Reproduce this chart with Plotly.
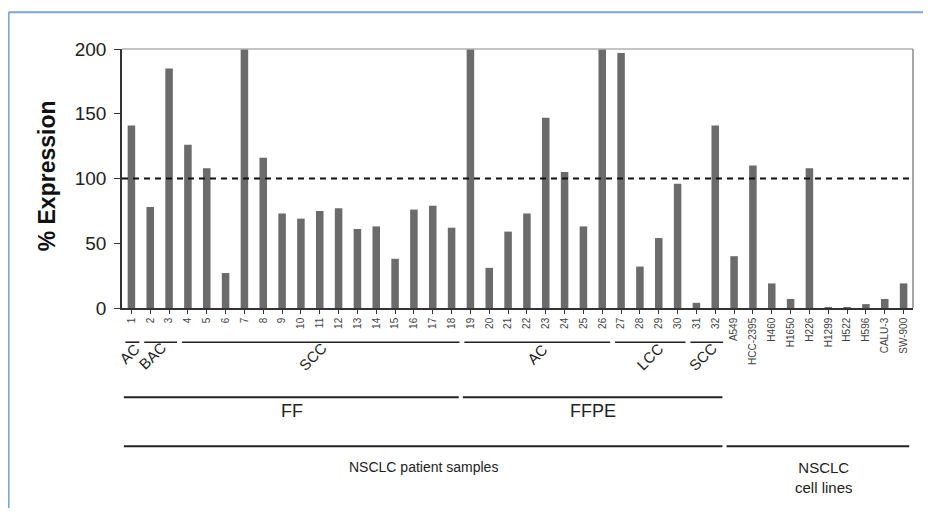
import plotly.graph_objects as go

patient_labels = [str(i) for i in range(1, 33)]
cell_lines = ["A549", "HCC-2395", "H460", "H1650", "H226", "H1299", "H522", "H596", "CALU-3", "SW-900"]
categories = patient_labels + cell_lines

expression = [141, 78, 185, 126, 108, 27, 200, 116, 73, 69,
              75, 77, 61, 63, 38, 76, 79, 62, 200, 31,
              59, 73, 147, 105, 63, 200, 197, 32, 54, 96,
              4, 141,
              40, 110, 19, 7, 108, 0.4, 0.4, 3, 7, 19]

histology = [("AC", 0, 0), ("BAC", 1, 2), ("SCC", 3, 17),
             ("AC", 18, 25), ("LCC", 26, 29), ("SCC", 30, 31)]
preservation = [("FF", 0, 17), ("FFPE", 18, 31)]
source = [("NSCLC patient samples", 0, 31), ("NSCLC<br>cell lines", 32, 41)]
yticks = [0, 50, 100, 150, 200]
threshold = 100

# the page body has an 8px margin; work in reference-pixel coords and shift
OFF = 8
FW, FH = 915, 500
L, R, T, B = 122.3, 912.7, 49.3, 308.3   # reference pixels
W, H = R - L, B - T

def py(p):  # reference pixel y -> paper y
    return (B - p) / H

def px(p):
    return (p - L) / W

x_idx = list(range(len(categories)))

fig = go.Figure()
fig.add_trace(go.Bar(x=x_idx, y=expression, marker=dict(color="#6b6b6b", line=dict(width=0)),
                     width=0.4, showlegend=False))

fig.add_shape(type="line", xref="paper", yref="y", x0=0, x1=1, y0=threshold, y1=threshold,
              line=dict(color="#111", width=2, dash="6px,5px"))

fig.add_shape(type="line", xref="paper", yref="paper", x0=0, x1=1, y0=1, y1=1,
              line=dict(color="#b0b0b0", width=1.5))
fig.add_shape(type="line", xref="paper", yref="paper", x0=1, x1=1, y0=0, y1=1,
              line=dict(color="#8a8a8a", width=1.5))

fig.add_shape(type="line", xref="paper", yref="paper", x0=px(9), x1=px(940), y0=py(12.5), y1=py(12.5),
              line=dict(color="#7ba7d6", width=2))
fig.add_shape(type="line", xref="paper", yref="paper", x0=px(9), x1=px(9), y0=py(12.5), y1=py(530),
              line=dict(color="#7ba7d6", width=2))

annos = []
lvl1_y = 342.5
lbl1_pos = [(130, 354), (153, 356), (313, 357), (537, 355), (650, 357), (703, 357)]
for k, (lab, a, b) in enumerate(histology):
    fig.add_shape(type="line", xref="x", yref="paper", x0=a - 0.32, x1=b + 0.42,
                  y0=py(lvl1_y), y1=py(lvl1_y), line=dict(color="#222", width=1.6))
    cx, cy = lbl1_pos[k]
    annos.append(dict(text=lab, xref="paper", yref="paper", x=px(cx), y=py(cy), showarrow=False,
                      xanchor="center", yanchor="middle",
                      textangle=-45, font=dict(size=15, color="#222")))
lvl2_y = 397.5
for lab, a, b in preservation:
    fig.add_shape(type="line", xref="x", yref="paper", x0=a - 0.4, x1=b + 0.38,
                  y0=py(lvl2_y), y1=py(lvl2_y), line=dict(color="#222", width=2))
    annos.append(dict(text=lab, xref="x", yref="paper", x=(a + b) / 2, y=py(411), showarrow=False,
                      xanchor="center", yanchor="middle",
                      font=dict(size=18, color="#222")))
lvl3_y = 446.5
for lab, a, b in source:
    last = b == len(categories) - 1
    fig.add_shape(type="line", xref="x", yref="paper", x0=a - 0.4, x1=b + (0.3 if last else 0.38),
                  y0=py(lvl3_y), y1=py(lvl3_y), line=dict(color="#222", width=2))
    annos.append(dict(text=lab, xref="x", yref="paper", x=(a + b) / 2 + (0.3 if last else 0),
                      y=py(478 if last else 467), showarrow=False,
                      xanchor="center", yanchor="middle",
                      font=dict(size=14 if not last else 15, color="#222")))

annos.append(dict(text="<b>% Expression</b>", xref="paper", yref="paper", x=px(47), y=py(176),
                  showarrow=False, textangle=-90, xanchor="center", yanchor="middle",
                  font=dict(size=23, color="#111")))

fig.update_layout(
    width=FW, height=FH,
    margin=dict(l=L - OFF, r=FW - (R - OFF), t=T - OFF, b=FH - (B - OFF)),
    paper_bgcolor="white", plot_bgcolor="white",
    bargap=0.6, annotations=annos,
    font=dict(family="Arial, Liberation Sans, sans-serif"),
)
fig.update_xaxes(range=[-0.5, len(categories) - 0.5], tickmode="array", tickvals=x_idx,
                 ticktext=categories, tickangle=-90, tickfont=dict(size=10, color="#444"),
                 ticks="outside", ticklen=4, tickcolor="#333", tickson="boundaries",
                 showline=True, linecolor="#333", linewidth=1.5, showgrid=False, zeroline=False)
fig.update_yaxes(range=[0, 200], tickvals=yticks, tickfont=dict(size=19, color="#222"),
                 ticks="outside", ticklen=6, tickcolor="#333", showline=True, linecolor="#333",
                 ticklabelstandoff=4,
                 linewidth=1.5, showgrid=False, zeroline=False)

fig.write_html("out.html")
